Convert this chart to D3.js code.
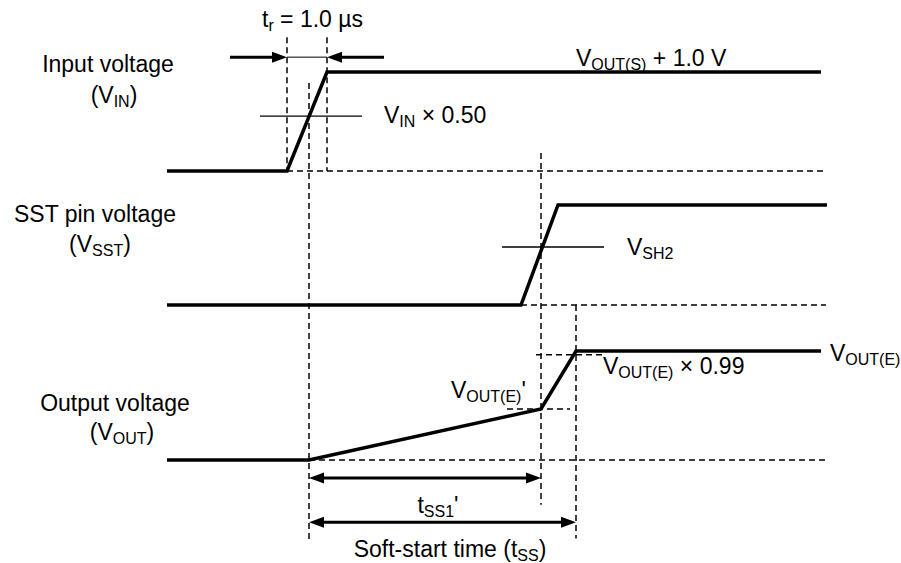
<!DOCTYPE html>
<html><head><meta charset="utf-8">
<script src="https://cdn.jsdelivr.net/npm/d3@7"></script>
<style>body{margin:0;background:#fff}svg{display:block}</style>
</head><body>
<svg id="c" width="901" height="563"></svg>
<script>
// ---- data (time in arbitrary units, levels normalised 0..1 per waveform) ----
const vinWave  = [[0,0],[120,0],[160,1],[654,1]];
const sstWave  = [[0,0],[354,0],[391,1],[660,1]];
const voutWave = [[0,0],[142,0],[374,0.468],[409,1],[654,1]];

// vertical dashed guides: time, [panel, level] from/to
const vGuides = [
  [120, ["vin",1.35], ["vin",0]],
  [160, ["vin",1.35], ["vin",0]],
  [142, ["vin",0.89], ["vout",-0.73]],
  [374, ["sst",1.52], ["vout",-0.41]],
  [409, ["sst",0],    ["vout",-0.72]]
];
// horizontal dashed guides: panel, level, t0, t1
const hGuides = [
  ["vin",0,120,659],
  ["sst",0,354,659],
  ["vout",0,142,659],
  ["vout",0.965,369,437],
  ["vout",0.468,340,403]
];
// thin threshold lines: panel, level, t0, t1
const thresholds = [
  ["vin",0.555,93,195],
  ["sst",0.58,335,437]
];
// dimension arrows: panel, level, t0, t1
const dimArrows = [
  ["vout",-0.165,142,374],
  ["vout",-0.57,142,409]
];
// rise-time arrows (outside pointing in)
const trArrow = ["vin",1.15,120,160,63,217];

// text labels: panel, level, time, anchor, segments ([text, isSub])
const labels = [
  ["vin",1.455,95,"start",[["t"],["r",1],[" = 1.0 µs"]]],
  ["vin",1.0,-59,"middle",[["Input voltage"]]],
  ["vin",0.69,-53,"middle",[["("],["V"],["IN",1],[")"]]],
  ["vin",1.06,409,"start",[["V"],["OUT(S)",1],[" + 1.0 V"]]],
  ["vin",0.485,217,"start",[["V"],["IN",1],[" × 0.50"]]],
  ["sst",0.83,-72,"middle",[["SST pin voltage"]]],
  ["sst",0.53,-67,"middle",[["("],["V"],["SST",1],[")"]]],
  ["sst",0.50,460,"start",[["V"],["SH2",1]]],
  ["vout",0.91,663,"start",[["V"],["OUT(E)",1]]],
  ["vout",0.79,436,"start",[["V"],["OUT(E)",1],[" × 0.99"]]],
  ["vout",0.57,284,"start",[["V"],["OUT(E)",1],["'"]]],
  ["vout",0.45,-52,"middle",[["Output voltage"]]],
  ["vout",0.18,-45,"middle",[["("],["V"],["OUT",1],[")"]]],
  ["vout",-0.485,271,"middle",[["t"],["SS1",1],["'"]]],
  ["vout",-0.89,283,"middle",[["Soft-start time (t"],["SS",1],[")"]]]
];

// ---- scales ----
const x = d3.scaleLinear().domain([0,660]).range([167,827]);
const y = {
  vin:  d3.scaleLinear().domain([0,1]).range([171,72]),
  sst:  d3.scaleLinear().domain([0,1]).range([305,205]),
  vout: d3.scaleLinear().domain([0,1]).range([460,351])
};

const svg = d3.select("#c");
const FONT = "'Liberation Sans', Arial, sans-serif";
const dash = "6,4";

// dashed guides
svg.append("g").selectAll("line").data(vGuides).join("line")
  .attr("x1",d=>x(d[0])).attr("x2",d=>x(d[0]))
  .attr("y1",d=>y[d[1][0]](d[1][1])).attr("y2",d=>y[d[2][0]](d[2][1]))
  .attr("stroke","#000").attr("stroke-width",1.5).attr("stroke-dasharray",dash);
svg.append("g").selectAll("line").data(hGuides).join("line")
  .attr("x1",d=>x(d[2])).attr("x2",d=>x(d[3]))
  .attr("y1",d=>y[d[0]](d[1])).attr("y2",d=>y[d[0]](d[1]))
  .attr("stroke","#000").attr("stroke-width",1.5).attr("stroke-dasharray",dash);

// thresholds
svg.append("g").selectAll("line").data(thresholds).join("line")
  .attr("x1",d=>x(d[2])).attr("x2",d=>x(d[3]))
  .attr("y1",d=>y[d[0]](d[1])).attr("y2",d=>y[d[0]](d[1]))
  .attr("stroke","#000").attr("stroke-width",1.3);

// waveforms
const waves = [["vin",vinWave],["sst",sstWave],["vout",voutWave]];
svg.append("g").selectAll("path").data(waves).join("path")
  .attr("d",d=>d3.line().x(p=>x(p[0])).y(p=>y[d[0]](p[1]))(d[1]))
  .attr("fill","none").attr("stroke","#000").attr("stroke-width",3.5)
  .attr("stroke-linejoin","miter");

// arrowheads
const L=15, W=11;
function head(g,xt,yt,dir){
  g.append("path").attr("d",`M${xt},${yt}L${xt-dir*L},${yt-W/2}L${xt-dir*L},${yt+W/2}Z`).attr("fill","#000");
}
const ag = svg.append("g");
dimArrows.forEach(d=>{
  const yy=y[d[0]](d[1]), x0=x(d[2]), x1=x(d[3]);
  ag.append("line").attr("x1",x0+L-2).attr("x2",x1-L+2).attr("y1",yy).attr("y2",yy)
    .attr("stroke","#000").attr("stroke-width",3);
  head(ag,x0,yy,-1); head(ag,x1,yy,1);
});
{
  const d=trArrow, yy=y[d[0]](d[1]);
  const a=x(d[2]), b=x(d[3]), lo=x(d[4]), hi=x(d[5]);
  ag.append("line").attr("x1",lo).attr("x2",a-L+2).attr("y1",yy).attr("y2",yy).attr("stroke","#000").attr("stroke-width",3);
  ag.append("line").attr("x1",hi).attr("x2",b+L-2).attr("y1",yy).attr("y2",yy).attr("stroke","#000").attr("stroke-width",3);
  ag.append("line").attr("x1",a).attr("x2",b).attr("y1",yy).attr("y2",yy).attr("stroke","#000").attr("stroke-width",1);
  head(ag,a,yy,1); head(ag,b,yy,-1);
}

// labels
const tg = svg.append("g").attr("font-family",FONT).attr("fill","#000");
labels.forEach(l=>{
  const t = tg.append("text").attr("x",x(l[2])).attr("y",y[l[0]](l[1]))
    .attr("text-anchor",l[3]).attr("font-size",23);
  let shifted=false;
  l[4].forEach(s=>{
    const sp=t.append("tspan").text(s[0]);
    if(s[1]){ sp.attr("font-size",16); if(!shifted){sp.attr("dy",4);shifted=true;} }
    else { sp.attr("font-size",23); if(shifted){sp.attr("dy",-4);shifted=false;} }
  });
});
</script>
</body></html>
